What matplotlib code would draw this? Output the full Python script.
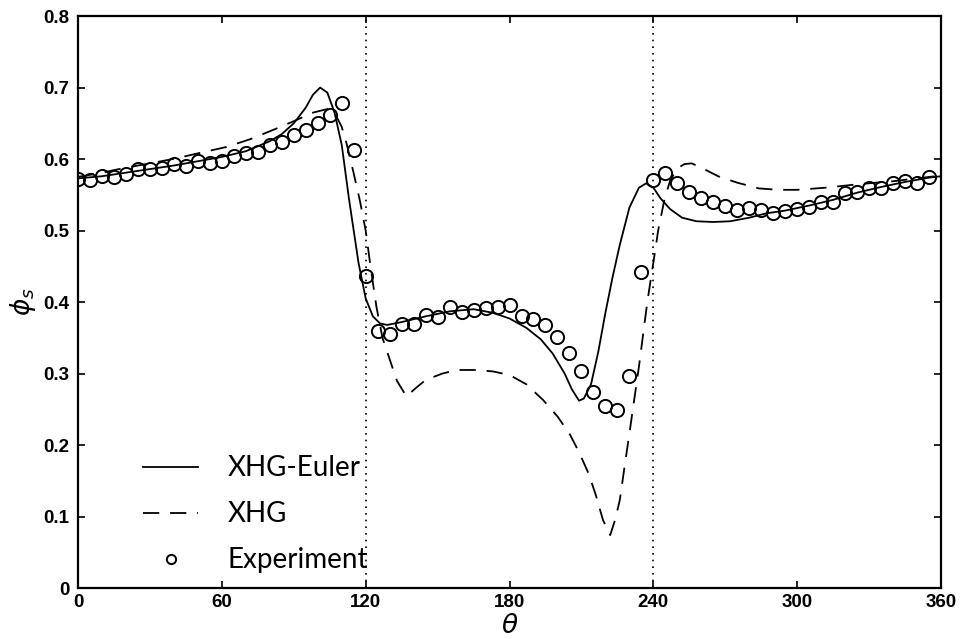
import matplotlib
matplotlib.use("Agg")
import matplotlib.pyplot as plt

# Experiment (every 5 degrees)
exp_theta = list(range(0, 360, 5))
exp_phi = [0.572, 0.571, 0.576, 0.575, 0.579, 0.586, 0.586, 0.588, 0.593, 0.591,
           0.597, 0.594, 0.597, 0.605, 0.608, 0.610, 0.620, 0.624, 0.634, 0.641,
           0.651, 0.662, 0.678, 0.613, 0.437, 0.360, 0.355, 0.369, 0.370, 0.382,
           0.379, 0.393, 0.386, 0.389, 0.391, 0.393, 0.396, 0.380, 0.376, 0.368,
           0.351, 0.329, 0.304, 0.274, 0.254, 0.249, 0.297, 0.442, 0.571, 0.580,
           0.566, 0.554, 0.546, 0.540, 0.534, 0.529, 0.531, 0.529, 0.524, 0.527,
           0.530, 0.533, 0.540, 0.540, 0.552, 0.554, 0.559, 0.560, 0.566, 0.570,
           0.566, 0.575]

# XHG-Euler
euler_theta = [0, 10, 20, 30, 40, 50, 60, 70, 80, 85, 90, 95, 98, 101, 104, 107, 110, 113,
               117, 120, 123, 126, 129, 135, 145, 155, 165, 173, 180, 187, 193, 198, 203,
               206, 209, 211, 214, 217, 220, 223, 226, 230, 234, 237, 240, 243, 247, 252,
               258, 265, 272, 280, 287, 295, 305, 315, 325, 335, 345, 355, 360]
euler_phi = [0.573, 0.576, 0.581, 0.586, 0.591, 0.597, 0.603, 0.611, 0.625, 0.635, 0.650,
             0.672, 0.690, 0.700, 0.693, 0.665, 0.620, 0.545, 0.455, 0.405, 0.380, 0.370,
             0.368, 0.372, 0.380, 0.387, 0.390, 0.385, 0.377, 0.364, 0.348, 0.328, 0.300,
             0.278, 0.262, 0.265, 0.285, 0.330, 0.385, 0.435, 0.480, 0.532, 0.560, 0.566,
             0.560, 0.545, 0.530, 0.518, 0.513, 0.512, 0.513, 0.518, 0.524, 0.528, 0.535,
             0.543, 0.553, 0.561, 0.568, 0.574, 0.576]

# XHG
xhg_theta = [0, 10, 20, 30, 41, 50, 62, 72, 83, 90, 98, 104, 107, 110, 112, 115, 117.5,
             120, 122, 124.5, 127, 130, 133, 137, 141, 145, 152, 158, 166, 173, 180, 187,
             194, 200, 205, 209, 213, 216, 219, 222, 224, 226, 228, 230, 234, 237.6, 240,
             242, 244.6, 247, 250, 253, 256, 260, 267, 275, 284, 292, 300, 312, 326, 340,
             355, 360]
xhg_phi = [0.575, 0.581, 0.588, 0.594, 0.601, 0.608, 0.617, 0.628, 0.643, 0.653, 0.665,
           0.670, 0.665, 0.645, 0.622, 0.580, 0.543, 0.500, 0.450, 0.393, 0.350, 0.320,
           0.290, 0.268, 0.280, 0.291, 0.300, 0.305, 0.305, 0.303, 0.298, 0.285, 0.263,
           0.240, 0.216, 0.190, 0.160, 0.130, 0.095, 0.074, 0.095, 0.123, 0.170, 0.216,
           0.310, 0.403, 0.455, 0.500, 0.543, 0.570, 0.587, 0.593, 0.594, 0.588, 0.576,
           0.567, 0.559, 0.557, 0.557, 0.560, 0.565, 0.569, 0.575, 0.577]

x_ticks = [0, 60, 120, 180, 240, 300, 360]
y_ticks = [0, 0.1, 0.2, 0.3, 0.4, 0.5, 0.6, 0.7, 0.8]
y_tick_labels = ["0", "0.1", "0.2", "0.3", "0.4", "0.5", "0.6", "0.7", "0.8"]
vlines = [120, 240]

fig = plt.figure(figsize=(9.61, 6.39), dpi=100)
ax = fig.add_axes([0.0812, 0.0798, 0.898, 0.895])

ax.plot(euler_theta, euler_phi, color="black", lw=1.3, label="XHG-Euler")
ax.plot(xhg_theta, xhg_phi, color="black", lw=1.3, dashes=(9, 6), label="XHG")
ax.plot(exp_theta, exp_phi, linestyle="none", marker="o", markersize=9.5,
        markerfacecolor="none", markeredgecolor="black", markeredgewidth=1.4,
        label="Experiment")
for v in vlines:
    ax.axvline(v, color="black", lw=1.2, linestyle=(0, (1, 3)))

ax.set_xlim(0, 360)
ax.set_ylim(0, 0.8)
ax.set_xticks(x_ticks)
ax.set_yticks(y_ticks)
ax.set_yticklabels(y_tick_labels)
ax.tick_params(direction="in", top=True, right=True, length=5, width=1.2,
               labelsize=13.5)
ax.tick_params(axis="y", pad=6)
ax.tick_params(axis="x", pad=4)
for lab in ax.get_xticklabels() + ax.get_yticklabels():
    lab.set_fontfamily("Liberation Sans")
    lab.set_fontweight("bold")
for s in ax.spines.values():
    s.set_linewidth(1.6)

ax.set_xlabel(r"$\theta$", fontsize=19, labelpad=2)
ax.set_ylabel(r"$\phi_s$", fontsize=19, labelpad=4)

leg = ax.legend(loc="lower left", bbox_to_anchor=(0.046, -0.018), frameon=False,
                prop={"family": "Lato", "size": 20}, handlelength=2.0,
                handletextpad=1.05, labelspacing=0.72, markerscale=0.7)

fig.savefig("out.png", dpi=100)
